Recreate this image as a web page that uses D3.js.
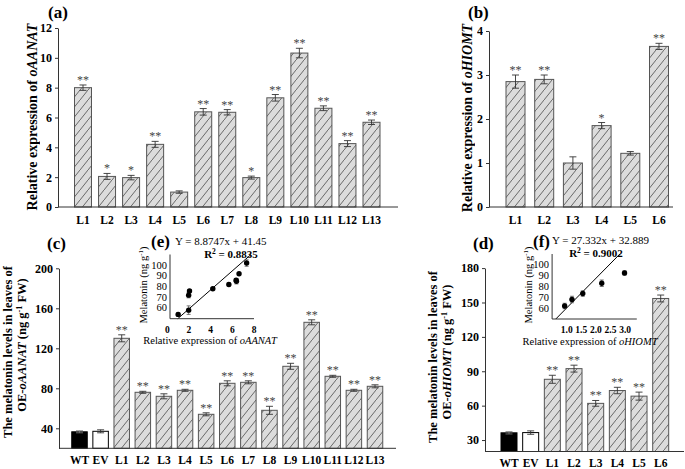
<!DOCTYPE html>
<html><head><meta charset="utf-8">
<script src="https://cdn.jsdelivr.net/npm/d3@7"></script>
<style>body{margin:0;background:#fff} svg text{opacity:0.995}</style>
</head><body><svg id="chart" width="685" height="469"></svg>
<script>
// ---------- data ----------
const catsA = ["L1","L2","L3","L4","L5","L6","L7","L8","L9","L10","L11","L12","L13"];
const valsA = [8.0, 2.05, 1.97, 4.2, 1.0, 6.38, 6.35, 1.97, 7.32, 10.32, 6.62, 4.25, 5.68];
const errsA = [0.18, 0.2, 0.15, 0.2, 0.08, 0.22, 0.18, 0.1, 0.22, 0.32, 0.16, 0.2, 0.15];
const sigA  = ["**","*","*","**","","**","**","*","**","**","**","**","**"];
const ticksA = [0,2,4,6,8,10,12];

const catsB = ["L1","L2","L3","L4","L5","L6"];
const valsB = [2.85, 2.9, 1.0, 1.85, 1.22, 3.65];
const errsB = [0.15, 0.1, 0.14, 0.07, 0.04, 0.07];
const sigB  = ["**","**","","*","","**"];
const ticksB = [0,1,2,3,4];

const catsC = ["WT","EV","L1","L2","L3","L4","L5","L6","L7","L8","L9","L10","L11","L12","L13"];
const valsC = [36.5, 37, 130, 76, 72, 78, 54, 85, 86, 58, 102, 146, 92, 78, 82];
const errsC = [1, 1.5, 3.5, 1, 2.5, 1, 1.5, 2.5, 1.5, 4, 3, 2.5, 1, 1, 1.5];
const sigC  = ["","","**","**","**","**","**","**","**","**","**","**","**","**","**"];
const ticksC = [40,80,120,160,200];

const catsD = ["WT","EV","L1","L2","L3","L4","L5","L6"];
const valsD = [36.3, 36.5, 83, 92.3, 62, 73.2, 68.3, 153.5];
const errsD = [1, 1.5, 3.5, 3, 2.5, 2.8, 3.5, 3];
const sigD  = ["","","**","**","**","**","**","**"];
const ticksD = [30,60,90,120,150,180];

const ptsEx = [1.0, 1.97, 1.97, 2.05, 4.2, 5.68, 6.38, 6.35, 6.62, 7.32];
const ptsEy = [54, 58, 72, 76, 78, 82, 85, 86, 92, 102];
const errEy = [1.5, 4, 2.5, 1, 1, 1.5, 2.5, 1.5, 1, 3];
const ticksEx = [0,2,4,6,8];
const ticksEy = [60,70,80,90,100];
const fitE = {m: 8.8747, b: 41.45, r2: "0.8835"};

const ptsFx = [0.93, 1.18, 1.55, 2.2, 2.98];
const ptsFy = [62, 68, 73.5, 83, 92.5];
const errFy = [2.5, 3, 2.5, 3, 2];
const ticksFx = [1.0,1.5,2.0,2.5,3.0];
const ticksFy = [60,70,80,90,100];
const fitF = {m: 27.332, b: 32.889, r2: "0.9002"};

// ---------- drawing ----------
const FONT = "'Liberation Serif','Times New Roman',serif";
const svg = d3.select("#chart").attr("font-family", FONT);
svg.append("rect").attr("width",685).attr("height",469).attr("fill","#fff");

const defs = svg.append("defs");
const pat = defs.append("pattern").attr("id","hatch").attr("patternUnits","userSpaceOnUse")
  .attr("width",8).attr("height",10);
pat.append("rect").attr("width",8).attr("height",10).attr("fill","#dcdcdc");
pat.append("path").attr("d","M-2,12.5L10,-2.5").attr("stroke","#4a4a4a").attr("stroke-width",0.8);

function barPanel(p) {
  const n = p.cats.length;
  const step = (p.last - p.first) / (n - 1);
  const pad = 1 - p.barW / step;
  const x = d3.scaleBand().domain(p.cats)
    .range([p.first - step/2, p.last + step/2]).paddingInner(pad).paddingOuter(pad/2);
  const y = d3.scaleLinear().domain(p.yDomain).range(p.yRange);
  const g = svg.append("g");
  const base = y(p.yDomain[0]);

  g.selectAll("rect.bar").data(p.cats).join("rect").attr("class","bar")
    .attr("x", c => x(c)).attr("width", x.bandwidth())
    .attr("y", (c,i) => y(p.vals[i])).attr("height", (c,i) => base - y(p.vals[i]))
    .attr("fill", c => c === "WT" ? "#000" : c === "EV" ? "#fff" : "url(#hatch)")
    .attr("stroke", c => (c === "WT" || c === "EV") ? "#000" : "#555")
    .attr("stroke-width", 1);

  const eb = g.selectAll("g.eb").data(p.cats).join("g").attr("class","eb")
    .attr("stroke", (c) => c === "WT" ? "#777" : "#333").attr("stroke-width", 0.9);
  eb.append("line")
    .attr("x1", c => x(c) + x.bandwidth()/2).attr("x2", c => x(c) + x.bandwidth()/2)
    .attr("y1", (c,i) => y(p.vals[i] - p.errs[i])).attr("y2", (c,i) => y(p.vals[i] + p.errs[i]));
  [-1, 1].forEach(s => {
    eb.append("line")
      .attr("x1", c => x(c) + x.bandwidth()/2 - 3.5).attr("x2", c => x(c) + x.bandwidth()/2 + 3.5)
      .attr("y1", (c,i) => y(p.vals[i] + s*p.errs[i])).attr("y2", (c,i) => y(p.vals[i] + s*p.errs[i]));
  });

  g.selectAll("text.sig").data(p.cats).join("text").attr("class","sig")
    .attr("x", c => x(c) + x.bandwidth()/2)
    .attr("y", (c,i) => y(p.vals[i] + p.errs[i]) - 1)
    .attr("text-anchor","middle").attr("font-size", 12).attr("fill","#444")
    .text((c,i) => p.sig[i]);

  // y axis
  const ya = g.append("g").attr("transform", `translate(${p.axisX[0]},0)`)
    .call(d3.axisLeft(y).tickValues(p.ticks).tickFormat(d3.format("d"))
      .tickSize(3).tickSizeOuter(0).tickPadding(3));
  ya.attr("font-family", FONT).attr("font-size", 12).attr("font-weight","bold");
  ya.selectAll("path,line").attr("stroke","#333");
  ya.selectAll("text").attr("fill","#000");

  // x axis line
  g.append("line").attr("x1", p.axisX[0]).attr("x2", p.axisX[1]).attr("y1", base).attr("y2", base)
    .attr("stroke","#333").attr("stroke-width",1);
  const xa = g.append("g").attr("transform", `translate(0,${base})`)
    .call(d3.axisBottom(x).tickSize(0).tickPadding(p.labelPad));
  xa.select(".domain").remove();
  xa.attr("font-family", FONT).attr("font-size", 11.5).attr("font-weight","bold");
  xa.selectAll("text").attr("fill","#000");
}

barPanel({cats: catsA, vals: valsA, errs: errsA, sig: sigA, ticks: ticksA,
  first: 83, last: 371.5, barW: 17, axisX: [58, 398], yDomain: [0, 12], yRange: [207, 28], labelPad: 8.5});
barPanel({cats: catsB, vals: valsB, errs: errsB, sig: sigB, ticks: ticksB,
  first: 515.5, last: 659, barW: 19, axisX: [489, 673], yDomain: [0, 4], yRange: [207, 31], labelPad: 8.5});
barPanel({cats: catsC, vals: valsC, errs: errsC, sig: sigC, ticks: ticksC,
  first: 79.5, last: 375, barW: 15.5, axisX: [59, 396], yDomain: [20, 200], yRange: [448.3, 268.3], labelPad: 8});
barPanel({cats: catsD, vals: valsD, errs: errsD, sig: sigD, ticks: ticksD,
  first: 509, last: 660.7, barW: 16, axisX: [485, 684], yDomain: [20, 180], yRange: [451.5, 268.1], labelPad: 7});

function inset(p) {
  const x = d3.scaleLinear().domain(p.xDomain).range(p.xRange);
  const y = d3.scaleLinear().domain(p.yDomain).range(p.yRange);
  const g = svg.append("g");
  const y0 = p.yRange[0], ax = x(p.axisAt);
  // fit line
  const xa0 = (p.yDomain[0] - p.fit.b) / p.fit.m;
  let xa1 = (p.yDomain[1] - p.fit.b) / p.fit.m;
  xa1 = Math.min(xa1, p.xDomain[1]);
  g.append("line").attr("x1", x(xa0)).attr("y1", y(p.fit.m*xa0 + p.fit.b))
    .attr("x2", x(xa1)).attr("y2", y(p.fit.m*xa1 + p.fit.b)).attr("stroke","#000").attr("stroke-width",1);
  // axes
  g.append("line").attr("x1", ax).attr("x2", ax).attr("y1", y0).attr("y2", p.yRange[1]).attr("stroke","#333");
  g.append("line").attr("x1", ax).attr("x2", p.xRange[1]).attr("y1", y0).attr("y2", y0).attr("stroke","#333");
  g.selectAll("text.yt").data(p.yTicks).join("text").attr("class","yt")
    .attr("x", ax - 3).attr("y", d => y(d)).attr("dy","0.33em").attr("text-anchor","end")
    .attr("font-size", 10.5).text(d => d);
  g.selectAll("text.xt").data(p.xTicks).join("text").attr("class","xt")
    .attr("x", d => x(d)).attr("y", y0 + 14).attr("text-anchor","middle")
    .attr("font-size", 9.5).attr("font-weight","bold").text(d => p.xFmt(d));
  // points
  p.xs.forEach((xv, i) => {
    const cx = x(xv);
    g.append("line").attr("x1", cx).attr("x2", cx).attr("y1", y(p.ys[i]-p.errs[i])).attr("y2", y(p.ys[i]+p.errs[i])).attr("stroke","#555").attr("stroke-width",0.8);
    [-1,1].forEach(s => g.append("line").attr("x1", cx-2).attr("x2", cx+2)
      .attr("y1", y(p.ys[i]+s*p.errs[i])).attr("y2", y(p.ys[i]+s*p.errs[i])).attr("stroke","#555").attr("stroke-width",0.8));
    g.append("circle").attr("cx", cx).attr("cy", y(p.ys[i])).attr("r", 2.7).attr("fill","#000");
  });
  // titles
  const xt = g.append("text").attr("x", p.xTitleX).attr("y", y0 + 25.5).attr("text-anchor","middle").attr("font-size", 10.5);
  xt.append("tspan").text("Relative expression of ");
  xt.append("tspan").attr("font-style","italic").text(p.gene);
  const yt = g.append("text").attr("transform", `translate(${p.yTitleX},${p.yTitleY}) rotate(-90)`)
    .attr("text-anchor","middle").attr("dy","0.35em").attr("font-size", 10.5);
  yt.append("tspan").text("Melatonin (ng g");
  yt.append("tspan").attr("font-size", 7).attr("dy","-0.55em").text("-1");
  yt.append("tspan").attr("dy","0.38em").text(")");
  // equation
  g.append("text").attr("x", p.eqX).attr("y", p.eqY).attr("font-size", 11).text(`Y = ${p.fit.m}x + ${p.fit.b}`);
  const r = g.append("text").attr("x", p.r2X).attr("y", p.eqY + 12.5).attr("font-size", 11).attr("font-weight","bold").attr("text-anchor","middle");
  r.append("tspan").text("R");
  r.append("tspan").attr("font-size", 7.5).attr("dy","-0.5em").text("2");
  r.append("tspan").attr("dy","0.37em").text(" = " + p.fit.r2);
}

inset({xs: ptsEx, ys: ptsEy, errs: errEy, xDomain: [0, 8], xRange: [167.3, 254], axisAt: 0.25,
  yDomain: [50, 110], yRange: [318.7, 254.5], xTicks: ticksEx, yTicks: ticksEy, xFmt: d => d,
  fit: fitE, gene: "oAANAT", xTitleX: 210, yTitleX: 143, yTitleY: 285, eqX: 175, eqY: 245, r2X: 231});
inset({xs: ptsFx, ys: ptsFy, errs: errFy, xDomain: [0.5, 3.4], xRange: [552.1, 636.8], axisAt: 0.5,
  yDomain: [50, 110], yRange: [319, 254], xTicks: ticksFx, yTicks: ticksFy, xFmt: d3.format(".1f"),
  fit: fitF, gene: "oHIOMT", xTitleX: 590, yTitleX: 528, yTitleY: 285, eqX: 552, eqY: 244, r2X: 596});

// panel letters
[["(a)",48,18],["(b)",468,18],["(c)",47,249],["(d)",473,249],["(e)",151,247],["(f)",533,247]]
  .forEach(([t,x,y]) => svg.append("text").attr("x",x).attr("y",y).attr("font-size",17).attr("font-weight","bold").text(t));

// main y titles
function yTitle(x, y, parts, fs) {
  const t = svg.append("text").attr("transform", `translate(${x},${y}) rotate(-90)`)
    .attr("text-anchor","middle").attr("dy","0.35em").attr("font-size", fs).attr("font-weight","bold");
  parts.forEach(pp => {
    const s = t.append("tspan").text(pp.t);
    if (pp.i) s.attr("font-style","italic");
    if (pp.sup) s.attr("font-size", fs*0.65).attr("dy","-0.6em");
    if (pp.down) s.attr("dy", (0.6*0.65) + "em");
  });
}
yTitle(32, 117, [{t:"Relative expression of "},{t:"oAANAT", i:true}], 14);
yTitle(467, 118, [{t:"Relative expression of "},{t:"oHIOMT", i:true}], 14);
yTitle(7.5, 352, [{t:"The melatonin levels in leaves of"}], 12.5);
yTitle(22, 345, [{t:"OE-"},{t:"oAANAT", i:true},{t:" (ng g"},{t:"-1", sup:true},{t:" FW)", down:true}], 12.5);
yTitle(433, 357, [{t:"The melatonin levels in leaves of"}], 12.5);
yTitle(447, 352, [{t:"OE-"},{t:"oHIOMT", i:true},{t:" (ng g"},{t:"-1", sup:true},{t:" FW)", down:true}], 12.5);
</script>
</body></html>
